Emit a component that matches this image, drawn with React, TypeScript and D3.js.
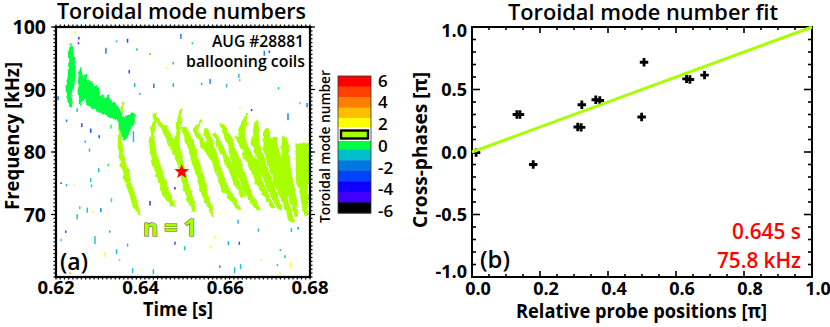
import React from "react";
import * as d3 from "d3";

const W = 830, H = 327;
const FONT = "'Open Sans', 'Noto Sans', sans-serif";
const MODE: Record<string, string> = {
  "6": "#ff0000", "5": "#ff4000", "4": "#ff8000", "3": "#ffbf00", "2": "#ffff00", "1": "#a8ff00",
  "0": "#00ff40", "-1": "#00bfc8", "-2": "#0078e0", "-3": "#0040ff", "-4": "#1000ff", "-5": "#4000ff", "-6": "#000000",
};
const modeOrder = [6, 5, 4, 3, 2, 1, 0, -1, -2, -3, -4, -5, -6];
const modeTicks = [6, 4, 2, 0, -2, -4, -6];

const timeTicks = [0.62, 0.64, 0.66, 0.68];
const freqTicks = [100, 90, 80, 70];
const fitXTicks = [0, 0.2, 0.4, 0.6, 0.8, 1];
const fitYTicks = [1, 0.5, 0, -0.5, -1];

// [t, f, half width in s]
const n0Blob: number[][] = [
  [0.6234, 97.4, 0.0001], [0.6235, 95.5, 0.0005], [0.6238, 93.9, 0.0007], [0.6237, 92.3, 0.0007],
  [0.6233, 90.7, 0.0008], [0.6231, 89.1, 0.0006], [0.6234, 88.3, 0.0005], [0.6234, 87.2, 0.0002],
];
// [t, fHigh, fLow]
const n0Band: number[][] = [
  [0.6251, 90.99, 89.39], [0.6254, 92.59, 88.05], [0.6259, 93.65, 87.25], [0.6264, 92.05, 88.32],
  [0.627, 92.59, 88.59], [0.6275, 91.25, 87.52], [0.6281, 91.52, 87.25], [0.6287, 91.25, 86.72],
  [0.6292, 90.45, 86.99], [0.6298, 90.99, 86.45], [0.6305, 89.12, 86.19], [0.6311, 89.39, 85.92],
  [0.6317, 88.59, 85.92], [0.6324, 89.12, 85.55], [0.633, 88.05, 85.39], [0.6336, 87.79, 85.39],
  [0.6342, 87.89, 85.01], [0.6349, 86.99, 84.0], [0.6355, 86.19, 82.8], [0.6361, 85.55, 81.8],
  [0.6368, 85.76, 82.2], [0.6374, 85.8, 83.2], [0.638, 86.2, 84.3], [0.6386, 86.0, 84.6],
];
// [t, f, half width in s]
const n1Chirps: number[][][] = [
  [[0.6357, 88.05, 0.0002], [0.6355, 86.2, 0.0002], [0.6351, 83.8, 0.0003], [0.6351, 81.9, 0.0004], [0.6353, 79.8, 0.0005], [0.6361, 77.65, 0.0006], [0.6369, 75.5, 0.0006], [0.6379, 73.4, 0.00055], [0.6388, 71.5, 0.0005], [0.6398, 69.75, 0.00015]],
  [[0.6435, 86.2, 0.0002], [0.643, 84.05, 0.0004], [0.6426, 81.9, 0.0005], [0.643, 79.8, 0.0006], [0.6442, 77.1, 0.0007], [0.6453, 74.7, 0.0007], [0.6465, 72.85, 0.0007], [0.6477, 71.25, 0.0004]],
  [[0.6435, 85.65, 0.0003], [0.6449, 84.3, 0.0006], [0.6461, 83.25, 0.0007], [0.6473, 81.4, 0.0006], [0.6482, 79.5, 0.0004]],
  [[0.6495, 87, 0.0002], [0.649, 84.6, 0.0004], [0.6485, 81.4, 0.0005], [0.649, 79.25, 0.0006], [0.6498, 77.1, 0.0006], [0.6508, 74.45, 0.0006], [0.6519, 72.05, 0.0006], [0.6526, 70.45, 0.0003]],
  [[0.6501, 84.05, 0.0005], [0.652, 80.85, 0.0007], [0.654, 76.05, 0.0007], [0.6556, 72.3, 0.0006], [0.6571, 69.65, 0.0002]],
  [[0.6544, 85.1, 0.0002], [0.6528, 83.5, 0.0004], [0.6552, 80.85, 0.0006], [0.6575, 78.45, 0.0006]],
  [[0.6553, 83.8, 0.0004], [0.6564, 81.4, 0.0007], [0.6583, 77.1, 0.0007], [0.6599, 74.2, 0.0007], [0.6619, 72.3, 0.0007], [0.6634, 70.7, 0.0003]],
  [[0.6591, 84.6, 0.0004], [0.6607, 81.9, 0.0006], [0.663, 78.2, 0.0007], [0.6654, 73.4, 0.0007], [0.6678, 70.7, 0.0004]],
  [[0.6575, 83, 0.0004], [0.6595, 79.8, 0.0006], [0.6615, 77.1, 0.0006], [0.6642, 72.85, 0.0005]],
  [[0.665, 86.2, 0.0002], [0.6638, 83, 0.0006], [0.6654, 79.25, 0.0008], [0.6685, 74.45, 0.0007], [0.6713, 71, 0.0004]],
  [[0.6674, 85.1, 0.0003], [0.667, 81.4, 0.0008], [0.6701, 75.5, 0.0008], [0.6729, 70.7, 0.0004]],
  [[0.6697, 83.8, 0.0004], [0.6701, 80.3, 0.0009], [0.6729, 74.45, 0.0008], [0.6758, 68.85, 0.0004]],
  [[0.6741, 82.45, 0.0005], [0.6741, 77.65, 0.001], [0.676, 72.3, 0.0007], [0.6768, 69.65, 0.0003]],
  [[0.6772, 81.4, 0.0005], [0.678, 76.05, 0.001], [0.6792, 69.65, 0.0004]],
  [[0.6627, 82.45, 0.0005], [0.667, 78.2, 0.0007], [0.6717, 74.45, 0.0006]],
  [[0.6713, 82.45, 0.0005], [0.6721, 78.2, 0.001], [0.6749, 72.85, 0.0005]],
  [[0.6788, 81.4, 0.0008], [0.6792, 75, 0.0008]],
  [[0.6612, 82.6, 0.0003], [0.6618, 80, 0.0006], [0.6628, 76, 0.0004]],
];
// [t, f, mode, length in kHz]
const specks: number[][] = [
  [0.6245, 99.15, 2, 0.5], [0.6254, 98.2, -5, 0.5], [0.6253, 97.4, -5, 0.4], [0.6318, 96.2, -2, 1.2], [0.6369, 97.8, -3, 0.8],
  [0.6343, 97.7, -1, 0.4], [0.6391, 96.4, -1, 0.5], [0.6422, 95.7, 4, 0.4], [0.6495, 98.5, -2, 1], [0.6522, 97.4, -1, 0.4],
  [0.6692, 95.8, -2, 1], [0.6704, 96.05, -3, 0.5], [0.6477, 94.2, -1, 0.5], [0.6373, 92.85, -3, 0.7], [0.646, 93.4, 2, 0.4],
  [0.6431, 90.6, -2, 0.9], [0.6477, 90.7, -1, 0.8], [0.6386, 90.7, -1, 0.8], [0.6564, 91.3, -2, 1], [0.6544, 90.9, -1, 0.5],
  [0.6603, 90.6, -1, 0.7], [0.6632, 92.2, -1, 0.8], [0.6634, 91.5, 4, 0.4], [0.6682, 92.85, 2, 0.4], [0.6725, 90.2, 0, 0.5],
  [0.6793, 87.5, -2, 0.9], [0.6776, 87.8, 4, 0.4], [0.6748, 85.65, -2, 1.4], [0.6205, 88.6, -2, 0.8], [0.6398, 89.3, -1, 0.4],
  [0.625, 86.7, -1, 0.7], [0.6261, 84.3, -3, 0.8], [0.6225, 85, -2, 0.5], [0.6282, 83.4, -3, 0.9], [0.6302, 82.45, -3, 0.6],
  [0.633, 84.05, 0, 0.8], [0.6383, 82.45, -1, 2.2], [0.6269, 81.65, -1, 0.5], [0.6279, 80.3, -1, 0.6], [0.6213, 81.65, 2, 0.3],
  [0.6662, 86.7, -5, 0.4], [0.6634, 87, 2, 0.3],
  [0.6301, 77.1, -1, 0.8], [0.6323, 77.9, 0, 0.5], [0.6225, 74.7, -1, 0.5], [0.6212, 75, -5, 0.3], [0.6245, 74.7, 2, 0.3],
  [0.6282, 75.5, -1, 0.8], [0.6284, 74.6, -1, 0.5], [0.6331, 72.3, 0, 0.8], [0.625, 69.65, -1, 1], [0.6274, 70.7, -1, 1],
  [0.6306, 70.7, -2, 0.8], [0.6288, 70.45, 2, 0.5], [0.6256, 71.1, 0, 0.6], [0.6223, 67.25, -3, 0.5], [0.6292, 65.9, -1, 1.6],
  [0.6212, 65.9, -1, 0.4], [0.6327, 67.25, -2, 0.4], [0.6316, 63.6, 2, 1], [0.6343, 64.05, -1, 1], [0.635, 62.7, 4, 0.3],
  [0.6381, 61, -1, 1], [0.643, 60.85, -1, 1], [0.6406, 61.1, 2, 0.3], [0.6369, 65.1, -1, 0.6], [0.6422, 71.8, -5, 0.9],
  [0.6438, 66.7, 2, 1], [0.6481, 65.4, -3, 0.6], [0.6504, 64.6, -1, 0.8], [0.6565, 64.85, 2, 0.6], [0.6607, 65.4, -1, 0.8],
  [0.6633, 65.4, -3, 0.6], [0.663, 68.85, -1, 0.8], [0.6678, 67.5, -1, 0.6], [0.6622, 61.1, -1, 1.2], [0.6636, 61.65, -1, 1],
  [0.6587, 61.65, -2, 0.5], [0.6685, 62.7, 2, 0.4], [0.6723, 61.9, -1, 0.4], [0.6741, 63.25, -1, 0.6], [0.6729, 60.6, 2, 0.3],
  [0.6756, 67.5, -1, 0.8], [0.6754, 61.9, 2, 1], [0.6772, 67.8, -2, 0.5], [0.673, 64.3, -1, 0.4], [0.6481, 74.2, -5, 0.5],
  [0.6575, 66.45, 2, 0.4], [0.6233, 60.6, 4, 0.3],
];
const starPoint = [0.6497, 76.85];

const fitX = [0.012, 0.132, 0.141, 0.18, 0.311, 0.321, 0.323, 0.364, 0.376, 0.499, 0.506, 0.631, 0.641, 0.684];
const fitY = [-0.005, 0.3, 0.3, -0.1, 0.2, 0.197, 0.378, 0.418, 0.412, 0.28, 0.718, 0.585, 0.58, 0.615];
const fitLine = [[0, 0], [1, 1]];

const tx = d3.scaleLinear().domain([0.62, 0.68]).range([56, 310]);
const fy = d3.scaleLinear().domain([60, 100]).range([277, 27]);
const px = d3.scaleLinear().domain([0, 1]).range([472, 812]);
const py = d3.scaleLinear().domain([-1, 1]).range([277, 27]);
const cy = d3.scaleBand<number>().domain(modeOrder).range([76, 213]);
const cTick = d3.scaleLinear().domain([-6, 6]).range([211, 80.5]);

const WIDEN = 1.3;
const chirpArea = d3.area<number[]>()
  .y((d) => fy(d[1]))
  .x0((d) => tx(d[0] - d[2] * WIDEN))
  .x1((d) => tx(d[0] + d[2] * WIDEN));
const bandArea = d3.area<number[]>()
  .x((d) => tx(d[0]))
  .y0((d) => fy(d[1]))
  .y1((d) => fy(d[2]));
const fitPath = d3.line<number[]>().x((d) => px(d[0])).y((d) => py(d[1]));
const plus = d3.symbol().type(d3.symbolCross).size(40);

function starPath(cx: number, cyy: number, R: number, r: number) {
  const pts: [number, number][] = d3.range(10).map((i) => {
    const a = -Math.PI / 2 + (i * Math.PI) / 5;
    const q = i % 2 ? r : R;
    return [cx + q * Math.cos(a), cyy + q * Math.sin(a)];
  });
  return d3.line()(pts) + "Z";
}

const T = (p: any) => (
  <text fontFamily={FONT} fontWeight={700} fill="#000" lengthAdjust="spacingAndGlyphs" {...p} />
);

export default function App() {
  const leftXMinor = d3.range(0.62, 0.6801, 0.001);
  const leftYMinor = d3.range(60, 100.01, 0.625);
  const rightXMinor = d3.range(0, 1.001, 0.05);
  const rightYMinor = d3.range(-1, 1.001, 0.1);
  return (
    <svg width={W} height={H} viewBox={`0 0 ${W} ${H}`} style={{ position: "absolute", left: 0, top: 0, background: "#fff" }}>
      <defs>
        <clipPath id="plotA"><rect x={56} y={27} width={254} height={250} /></clipPath>
        <filter id="rough" filterUnits="userSpaceOnUse" x={50} y={20} width={270} height={265} colorInterpolationFilters="sRGB">
          <feTurbulence type="fractalNoise" baseFrequency="0.2 0.16" numOctaves={2} seed={4} result="n" />
          <feDisplacementMap in="SourceGraphic" in2="n" scale={4} xChannelSelector="R" yChannelSelector="G" />
        </filter>
      </defs>

      {/* Panel a */}
      <g clipPath="url(#plotA)">
        {specks.map((d, i) => (
          <rect key={i} x={tx(d[0]) - 0.75} y={fy(d[1] + d[3] * 0.4)} width={1.5} height={Math.max(1.5, (fy(0) - fy(d[3])) * 0.8)} fill={MODE[String(d[2])]} opacity={0.9} />
        ))}
        <g filter="url(#rough)">
          {n1Chirps.map((c, i) => <path key={i} d={chirpArea(c)!} fill={MODE["1"]} />)}
          <path d={chirpArea(n0Blob)!} fill={MODE["0"]} />
          <path d={bandArea(n0Band)!} fill={MODE["0"]} />
        </g>
        <path d={starPath(tx(starPoint[0]), fy(starPoint[1]), 7.8, 3.2)} fill="#ff0000" />
      </g>
      <g stroke="#000" strokeWidth={1.2}>
        {leftXMinor.map((t, i) => (
          <g key={i}>
            <line x1={tx(t)} x2={tx(t)} y1={27} y2={24.5} />
            <line x1={tx(t)} x2={tx(t)} y1={277} y2={279.5} />
          </g>
        ))}
        {leftYMinor.map((f, i) => (
          <g key={i}>
            <line x1={56} x2={53.5} y1={fy(f)} y2={fy(f)} />
            <line x1={310} x2={312.5} y1={fy(f)} y2={fy(f)} />
          </g>
        ))}
        {freqTicks.map((f) => (
          <g key={f}>
            <line x1={56} x2={51} y1={fy(f)} y2={fy(f)} />
            <line x1={310} x2={315} y1={fy(f)} y2={fy(f)} />
          </g>
        ))}
      </g>
      <rect x={56} y={27} width={254} height={250} fill="none" stroke="#000" strokeWidth={2.2} />
      <T x={57} y={19} fontSize={22} textLength={249} fontWeight={600}>Toroidal mode numbers</T>
      {freqTicks.map((f) => (
        <T key={f} x={46} y={fy(f) + 7} fontSize={19.5} textAnchor="end">{f}</T>
      ))}
      {timeTicks.map((t) => (
        <T key={t} x={tx(t)} y={294} fontSize={18.5} textAnchor="middle">{t.toFixed(2)}</T>
      ))}
      <T x={143} y={316} fontSize={19.5} textLength={70}>Time [s]</T>
      <T x={-210} y={19} transform="rotate(-90)" fontSize={20} textLength={148}>Frequency [kHz]</T>
      <T x={304} y={47} fontSize={16} textAnchor="end" fontWeight={600} textLength={92}>AUG #28881</T>
      <T x={305} y={67} fontSize={16} textAnchor="end" fontWeight={600} textLength={119}>ballooning coils</T>
      <T x={60} y={270} fontSize={24} fontWeight={600} textLength={28}>(a)</T>
      <T x={143} y={236} fontSize={24} textLength={54} fill={MODE["1"]} stroke="#555" strokeWidth={1.2} paintOrder="stroke">n = 1</T>

      {/* Colour bar */}
      {modeOrder.map((m) => (
        <rect key={m} x={338} y={cy(m)} width={33} height={cy.bandwidth() + 0.5} fill={MODE[String(m)]} />
      ))}
      <rect x={337} y={127} width={35} height={14} fill="#fff" />
      <rect x={341} y={130.5} width={27} height={8} fill={MODE["1"]} stroke="#000" strokeWidth={2.4} />
      <rect x={338} y={76} width={33} height={137} fill="none" stroke="#333" strokeWidth={0.8} />
      <T x={-223} y={330} transform="rotate(-90)" fontSize={14} fontWeight={600} textLength={153}>Toroidal mode number</T>
      {modeTicks.map((m) => (
        <T key={m} x={378} y={cTick(m) + 6} fontSize={17} fontWeight={600}>{m}</T>
      ))}

      {/* Panel b */}
      <g stroke="#000" strokeWidth={1.6}>
        {rightXMinor.map((v, i) => {
          const major = i % 4 === 0;
          return (
            <g key={i}>
              <line x1={px(v)} x2={px(v)} y1={277} y2={major ? 271 : 274} />
              <line x1={px(v)} x2={px(v)} y1={27} y2={major ? 33 : 30} />
            </g>
          );
        })}
        {rightYMinor.map((v, i) => {
          const major = i % 5 === 0;
          return (
            <g key={i}>
              <line x1={472} x2={major ? 480 : 476} y1={py(v)} y2={py(v)} />
              <line x1={812} x2={major ? 804 : 808} y1={py(v)} y2={py(v)} />
            </g>
          );
        })}
      </g>
      <rect x={472} y={27} width={340} height={250} fill="none" stroke="#000" strokeWidth={2} />
      {fitX.map((x, i) => (
        <path key={i} d={plus()!} transform={`translate(${px(x)},${py(fitY[i])})`} fill="#000" />
      ))}
      <path d={fitPath(fitLine)!} stroke={MODE["1"]} strokeWidth={3} fill="none" />
      <T x={508} y={20} fontSize={22} textLength={270} fontWeight={600}>Toroidal mode number fit</T>
      {fitYTicks.map((v) => (
        <T key={v} x={467} y={py(v) + 6.5 + (v === 1 ? 3 : v === -1 ? -6 : 0)} fontSize={18} textAnchor="end">{v.toFixed(1)}</T>
      ))}
      {fitXTicks.map((v) => (
        <T key={v} x={px(v) + 6} y={295} fontSize={18} textAnchor="middle">{v.toFixed(1)}</T>
      ))}
      <T x={516} y={318} fontSize={19} textLength={251}>Relative probe positions [π]</T>
      <T x={-228} y={427} transform="rotate(-90)" fontSize={20} textLength={156}>Cross-phases [π]</T>
      <T x={480} y={268} fontSize={24} fontWeight={600} textLength={30}>(b)</T>
      <T x={732} y={239} fontSize={21} fill="#ff0000" textLength={69} fontWeight={600}>0.645 s</T>
      <T x={717} y={268} fontSize={21} fill="#ff0000" textLength={84} fontWeight={600}>75.8 kHz</T>
    </svg>
  );
}
